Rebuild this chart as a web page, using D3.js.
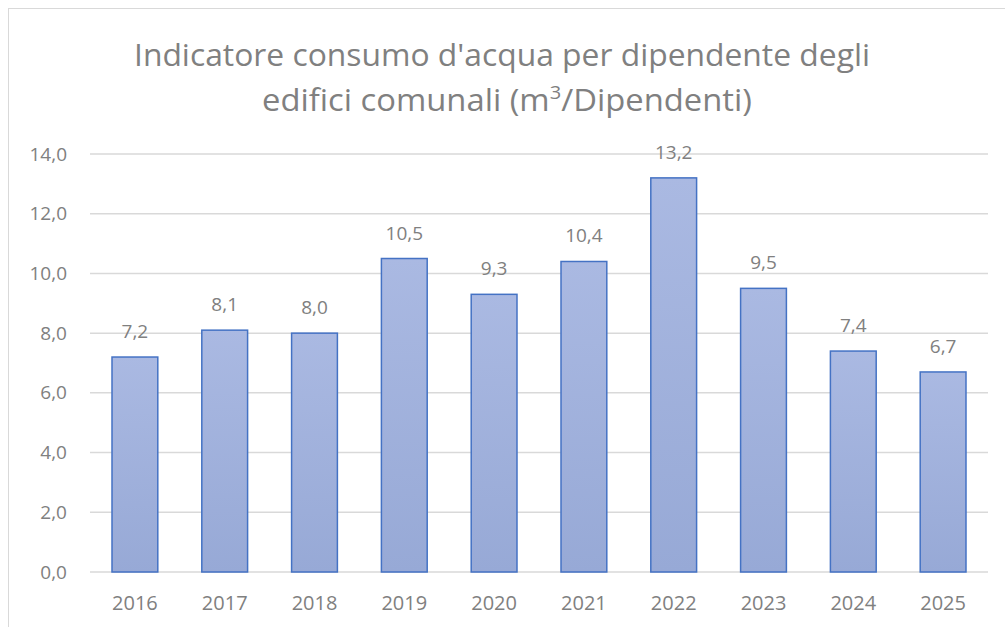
<!DOCTYPE html>
<meta charset="utf-8">
<head>
    <style>
        body { margin: 0; background: #fff; }
        text { font-family: "Open Sans", sans-serif; fill: #808080; }
    </style>
</head>
<script src="https://d3js.org/d3.v7.min.js"></script>
<div id="my_dataviz"></div>
<script>
    // chart data
    var years = ["2016", "2017", "2018", "2019", "2020", "2021", "2022", "2023", "2024", "2025"];
    var values = [7.2, 8.1, 8.0, 10.5, 9.3, 10.4, 13.2, 9.5, 7.4, 6.7];
    var yTicks = [0, 2, 4, 6, 8, 10, 12, 14];

    var W = 1005, H = 627;
    var margin = {top: 154, right: 17, bottom: 55, left: 90},
        width = W - margin.left - margin.right,
        height = H - margin.top - margin.bottom;

    var fmt = function(v) { return d3.format(".1f")(v).replace(".", ","); };

    var root = d3.select("#my_dataviz")
      .append("svg")
        .attr("width", W)
        .attr("height", H);

    // gradient for the bars
    var grad = root.append("defs").append("linearGradient")
        .attr("id", "barGrad")
        .attr("x1", 0).attr("y1", 0).attr("x2", 0).attr("y2", 1);
    grad.append("stop").attr("offset", "0%").attr("stop-color", "#aab9e2");
    grad.append("stop").attr("offset", "100%").attr("stop-color", "#97a9d6");

    // chart area border
    root.append("rect")
        .attr("x", 8.5).attr("y", 8.5)
        .attr("width", W + 10).attr("height", H + 10)
        .attr("fill", "none")
        .attr("stroke", "#d9d9d9")
        .attr("stroke-width", 1);

    // title (two lines)
    root.append("text")
        .attr("x", 502).attr("y", 66)
        .attr("text-anchor", "middle")
        .attr("font-size", 31)
        .attr("fill", "#858585")
        .attr("textLength", 736).attr("lengthAdjust", "spacingAndGlyphs")
        .text("Indicatore consumo d'acqua per dipendente degli");
    var line2 = root.append("text")
        .attr("x", 507).attr("y", 111)
        .attr("text-anchor", "middle")
        .attr("font-size", 31)
        .attr("fill", "#858585")
        .attr("textLength", 490).attr("lengthAdjust", "spacingAndGlyphs");
    line2.append("tspan").text("edifici comunali (m");
    line2.append("tspan").attr("font-size", 19).attr("dy", -12).text("3");
    line2.append("tspan").attr("dy", 12).text("/Dipendenti)");

    var svg = root.append("g")
        .attr("transform", "translate(" + margin.left + "," + margin.top + ")");

    var x = d3.scaleBand()
      .domain(years)
      .range([0, width])
      .paddingInner(0.49)
      .paddingOuter(0.245);

    var y = d3.scaleLinear()
      .domain([0, 14])
      .range([height, 0]);

    // gridlines
    svg.append("g")
      .selectAll("line")
      .data(yTicks)
      .enter().append("line")
        .attr("x1", 0).attr("x2", width)
        .attr("y1", function(d) { return y(d); })
        .attr("y2", function(d) { return y(d); })
        .attr("stroke", "#d9d9d9")
        .attr("stroke-width", 1.5);

    // Y axis labels
    var yAxis = svg.append("g")
      .call(d3.axisLeft(y).tickValues(yTicks).tickFormat(fmt).tickSize(0).tickPadding(23));
    yAxis.select(".domain").remove();
    yAxis.selectAll("text")
      .attr("font-size", 19)
      .attr("fill", "#808080")
      .style("font-family", "'Open Sans', sans-serif");

    // X axis labels
    var xAxis = svg.append("g")
      .attr("transform", "translate(0," + height + ")")
      .call(d3.axisBottom(x).tickSize(0).tickPadding(24));
    xAxis.select(".domain").remove();
    xAxis.selectAll("text")
      .attr("font-size", 20)
      .attr("fill", "#808080")
      .style("font-family", "'Open Sans', sans-serif");

    // bars
    svg.selectAll("rect.bar")
      .data(values)
      .enter().append("rect")
        .attr("class", "bar")
        .attr("x", function(d, i) { return x(years[i]); })
        .attr("y", function(d) { return y(d); })
        .attr("width", x.bandwidth())
        .attr("height", function(d) { return height - y(d); })
        .attr("fill", "url(#barGrad)")
        .attr("stroke", "#4472c4")
        .attr("stroke-width", 1.5);

    // value labels
    svg.selectAll("text.lbl")
      .data(values)
      .enter().append("text")
        .attr("class", "lbl")
        .attr("text-anchor", "middle")
        .attr("font-size", 19)
        .attr("x", function(d, i) { return x(years[i]) + x.bandwidth() / 2; })
        .attr("y", function(d) { return y(d) - 19; })
        .text(fmt);
</script>
